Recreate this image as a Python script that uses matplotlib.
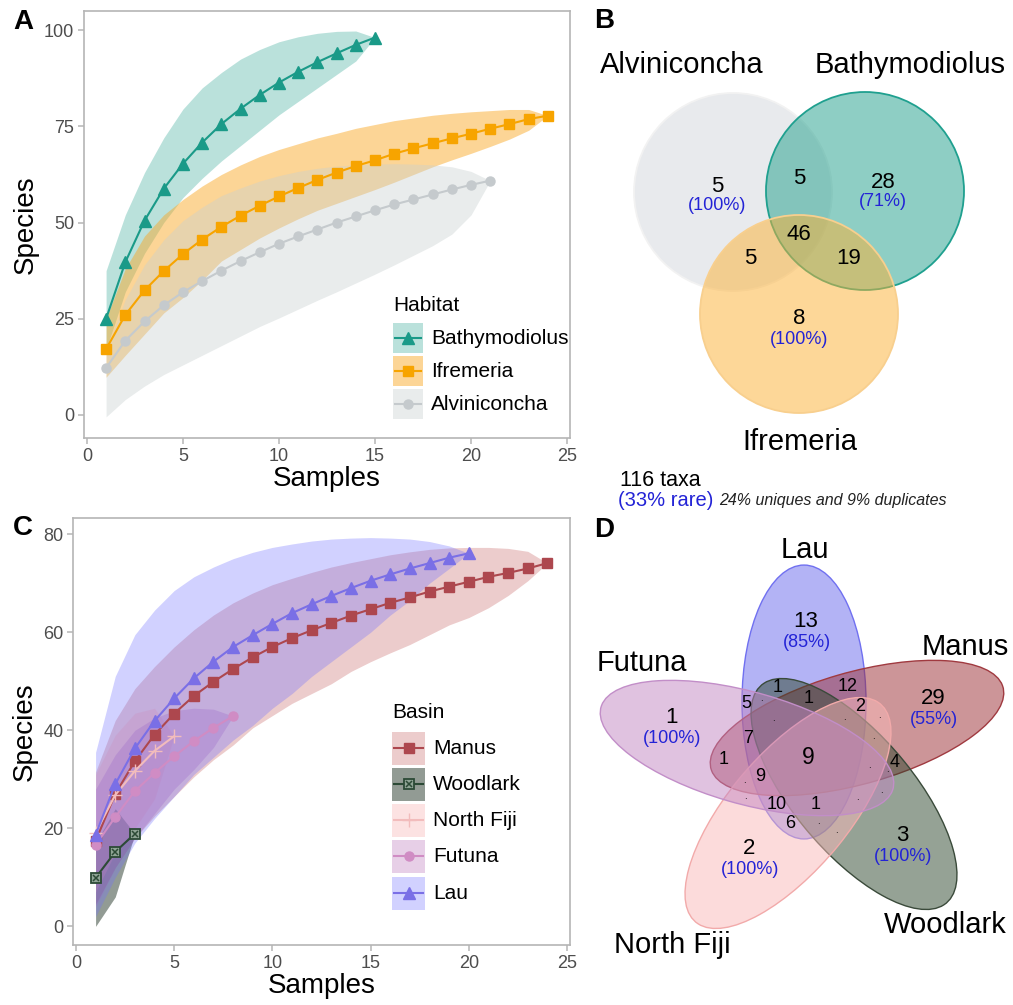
import matplotlib
matplotlib.use("Agg")
import matplotlib.pyplot as plt
from matplotlib.patches import Rectangle, Circle, Ellipse
from matplotlib.lines import Line2D
import numpy as np

plt.rcParams['font.family'] = ['Liberation Sans', 'DejaVu Sans']

W, H = 1013, 1005

# ---------------- data: panel A (habitat rarefaction) ----------------
bathy_x = np.arange(1, 16)
bathy = [25.0, 39.7, 50.5, 58.8, 65.3, 70.8, 75.6, 79.6, 83.2, 86.4, 89.2, 91.7, 94.0, 96.2, 98.1]
bathy_hi = [37.5, 52, 63, 72, 79.5, 85, 89, 92.5, 95, 97, 98.3, 99.2, 99.7, 99.8, 98.1]
bathy_lo = [17, 32, 42, 50, 56.5, 61.5, 66, 70, 74, 78, 81.5, 85, 88.5, 92, 98.1]

ifre_x = np.arange(1, 25)
ifre = [17.1, 26.0, 32.4, 37.4, 41.8, 45.6, 48.9, 51.8, 54.4, 56.8, 59.0, 61.1,
        63.0, 64.7, 66.2, 67.9, 69.3, 70.6, 71.9, 73.1, 74.4, 75.6, 76.9, 77.8]
ifre_hi = [25, 38, 46.5, 52, 56, 59.5, 62.5, 65, 67.2, 69, 70.5, 72,
           73.2, 74.5, 75.5, 76.5, 77.2, 77.9, 78.4, 78.8, 79.1, 79.4, 79.4, 77.8]
ifre_lo = [9.8, 15.5, 21, 26.5, 30.5, 35, 40, 43, 46, 48.6, 51, 53.2,
           55, 56.8, 58.6, 60.5, 62.5, 64.5, 66.3, 68, 69.8, 71.7, 74, 77.8]

alvi_x = np.arange(1, 22)
alvi = [12.2, 19.3, 24.3, 28.5, 31.9, 34.8, 37.5, 40.0, 42.3, 44.5, 46.4, 48.2,
        50.0, 51.6, 53.2, 54.7, 56.0, 57.3, 58.6, 59.8, 60.9]
alvi_hi = [17, 30, 39, 45.5, 50.5, 54, 57, 59, 60.8, 62.2, 63.3, 64.1,
           64.7, 65.0, 65.2, 65.3, 65.2, 65.0, 64.5, 63.3, 60.9]
alvi_lo = [-0.5, 4, 7.5, 10.5, 13, 15.5, 18, 20.5, 23, 25.2, 27.5, 29.8,
           32, 34.3, 36.6, 39, 41.5, 44, 47, 52, 60.9]

# ---------------- data: panel C (basin rarefaction) ----------------
manus_x = np.arange(1, 25)
manus = [17.4, 27.0, 33.7, 39.1, 43.4, 47.0, 49.9, 52.5, 54.9, 57.0, 58.8, 60.4,
         61.9, 63.4, 64.7, 66.0, 67.1, 68.3, 69.3, 70.3, 71.3, 72.1, 73.0, 74.1]
manus_hi = [31.5, 42, 48.5, 53, 57, 60.5, 63.5, 66, 68, 69.7, 71, 72.2,
            73.3, 74.2, 75, 75.8, 76.4, 76.9, 77.2, 77.3, 77.3, 77.1, 76.5, 74.1]
manus_lo = [4.5, 12, 18, 22.5, 26.5, 30.5, 34, 37, 40.5, 43, 45.5, 47.5,
            49.5, 52, 54, 55.8, 57.5, 59.5, 61.5, 63, 65, 67.5, 70.5, 74.1]

wood_x = np.arange(1, 4)
wood = [9.9, 15.2, 18.9]
wood_hi = [17, 24, 18.9]
wood_lo = [0, 6, 18.9]

fiji_x = np.arange(1, 6)
fiji = [19.1, 26.8, 31.7, 35.8, 38.8]
fiji_hi = [31, 39, 43.5, 44.5, 38.8]
fiji_lo = [7, 15, 20, 26, 38.8]

futu_x = np.arange(1, 9)
futu = [16.6, 22.3, 27.6, 31.3, 34.7, 37.8, 40.5, 42.9]
futu_hi = [28, 35, 40, 42.5, 44, 44.5, 44.3, 42.9]
futu_lo = [4, 12, 18, 23, 28, 32, 36.5, 42.9]

lau_x = np.arange(1, 21)
lau = [18.7, 29.0, 36.3, 41.9, 46.5, 50.6, 54.0, 57.0, 59.4, 61.7, 63.9, 65.7,
       67.4, 69.0, 70.5, 71.8, 73.0, 74.1, 75.2, 76.1]
lau_hi = [35.5, 51, 59.5, 64.5, 68.5, 71.3, 73.3, 75, 76.3, 77.3, 78, 78.6,
          79, 79.2, 79.3, 79.2, 79, 78.5, 77.6, 76.1]
lau_lo = [2, 10, 17, 22, 26.5, 31, 34.5, 38, 41, 44.5, 47.5, 51,
          54, 57, 60, 63.5, 66.5, 70, 73, 76.1]

# ---------------- data: Venn B (habitats) ----------------
hab_names = ['Alviniconcha', 'Bathymodiolus', 'Ifremeria']
hab_unique = [5, 28, 8]
hab_unique_rare = [100, 71, 100]
hab_pairs = [5, 5, 19]          # Alvi-Bathy, Alvi-Ifre, Bathy-Ifre
hab_all = 46
n_taxa = 116
rare_pct = 33
uniq_pct = 24
dup_pct = 9

# ---------------- data: Venn D (basins) ----------------
basin_names = ['Lau', 'Manus', 'Woodlark', 'North Fiji', 'Futuna']
basin_unique = [13, 29, 3, 2, 1]
basin_unique_rare = [85, 55, 100, 100, 100]
basin_shared = [1, 12, 5, 1, 2, 7, 1, 4, 9, 10, 1, 6]
basin_core = 9

BLUE = '#2323d6'
SPINE = '#b5b5b5'
WOOD_FACE = '#8fa495'


def fx(px):
    return px / W


def fy(py):
    return 1 - py / H


def style_axes(ax):
    for s in ax.spines.values():
        s.set_color(SPINE)
        s.set_linewidth(1.2)
    ax.tick_params(colors=SPINE, labelcolor='#4d4d4d', labelsize=13,
                   length=4, width=1.1, pad=3)


def legend_rows(fig, title, x0, ytitle, ys, entries, size):
    fig.text(fx(x0), fy(ytitle), title, fontsize=15, va='center', ha='left')
    for y, (name, col, fcol, falpha, mk, ms) in zip(ys, entries):
        fig.add_artist(Rectangle((fx(x0), fy(y + size / 2)), size / W, size / H,
                                 transform=fig.transFigure, color=fcol,
                                 alpha=falpha, lw=0))
        xs = [fx(x0 + 2), fx(x0 + size / 2), fx(x0 + size - 2)]
        boxed = (name == 'Woodlark')
        ln = Line2D(xs, [fy(y)] * 3, transform=fig.transFigure, color=col,
                    lw=1.5, marker=mk, markersize=ms, markevery=[1],
                    mfc=WOOD_FACE if boxed else col, mec=col,
                    mew=1.3 if boxed else 1.0)
        fig.add_artist(ln)
        if boxed:
            fig.add_artist(Line2D([xs[1]], [fy(y)], transform=fig.transFigure,
                                  ls='none', marker='x', markersize=ms * 0.7,
                                  color=col, mew=1.1))
        fig.text(fx(x0 + size + 8), fy(y), name, fontsize=15, va='center', ha='left')


fig = plt.figure(figsize=(W / 100, H / 100), dpi=100)

# ================= Panel A =================
axA = fig.add_axes([fx(84), fy(438), (570 - 84) / W, (438 - 11) / H])
series_a = [
    ('Bathymodiolus', bathy_x, bathy, bathy_lo, bathy_hi, '#1a9a88', '#3aaa9a', 0.35, '^', 8.5),
    ('Ifremeria', ifre_x, ifre, ifre_lo, ifre_hi, '#f7a400', '#f9a825', 0.48, 's', 6.5),
    ('Alviniconcha', alvi_x, alvi, alvi_lo, alvi_hi, '#c5cacd', '#c8d0d0', 0.4, 'o', 6.5),
]
for name, x, y, lo, hi, col, fcol, fa, mk, ms in series_a:
    axA.fill_between(x, lo, hi, color=fcol, alpha=fa, lw=0)
for name, x, y, lo, hi, col, fcol, fa, mk, ms in series_a:
    axA.plot(x, y, color=col, lw=1.5, marker=mk, markersize=ms, mec=col, mfc=col)
axA.set_xlim(-0.15, 25.15)
axA.set_ylim(-6, 105)
axA.set_xticks([0, 5, 10, 15, 20, 25])
axA.set_yticks([0, 25, 50, 75, 100])
axA.set_xlabel('Samples', fontsize=20, labelpad=1)
axA.set_ylabel('Species', fontsize=20, labelpad=4)
style_axes(axA)
legend_rows(fig, 'Habitat', 393, 305, [338, 371, 404],
            [(s[0], s[5], s[6], s[7], s[8], s[9]) for s in series_a], 30)

# ================= Panel C =================
axC = fig.add_axes([fx(73), fy(945), (570 - 73) / W, (945 - 518) / H])
series_c = [
    ('Manus', manus_x, manus, manus_lo, manus_hi, '#ad474e', '#c86464', 0.33, 's', 6.5),
    ('Woodlark', wood_x, wood, wood_lo, wood_hi, '#2c4a36', '#394a3d', 0.55, 's', 7),
    ('North Fiji', fiji_x, fiji, fiji_lo, fiji_hi, '#f2bcbc', '#f8a0a0', 0.3, '+', 10),
    ('Futuna', futu_x, futu, futu_lo, futu_hi, '#d08cc4', '#b060b0', 0.3, 'o', 6.5),
    ('Lau', lau_x, lau, lau_lo, lau_hi, '#7a6fe6', '#7070ff', 0.32, '^', 8.5),
]
for name, x, y, lo, hi, col, fcol, fa, mk, ms in series_c:
    axC.fill_between(x, lo, hi, color=fcol, alpha=fa, lw=0)
for name, x, y, lo, hi, col, fcol, fa, mk, ms in series_c:
    if name == 'Woodlark':
        axC.plot(x, y, color=col, lw=1.5, marker='s', markersize=ms,
                 mec=col, mfc=WOOD_FACE, mew=1.3)
        axC.plot(x, y, ls='none', marker='x', markersize=ms * 0.7, color=col, mew=1.1)
    else:
        axC.plot(x, y, color=col, lw=1.5, marker=mk, markersize=ms, mec=col, mfc=col)
axC.set_xlim(-0.15, 25.15)
axC.set_ylim(-3.8, 83.3)
axC.set_xticks([0, 5, 10, 15, 20, 25])
axC.set_yticks([0, 20, 40, 60, 80])
axC.set_xlabel('Samples', fontsize=20, labelpad=1)
axC.set_ylabel('Species', fontsize=20, labelpad=4)
style_axes(axC)
legend_rows(fig, 'Basin', 392, 712, [748, 784, 820, 856, 893],
            [(s[0], s[5], s[6], s[7], s[8], s[9]) for s in series_c], 33)

# ================= Panel B: 3-set Venn =================
axB = fig.add_axes([fx(580), fy(525), 433 / W, 525 / H])
axB.set_xlim(580, 1013)
axB.set_ylim(525, 0)
axB.axis('off')
circ_xy = [(733, 192), (865, 191), (799, 314)]
circ_fill = ['#d3d7dd', '#1f9f8b', '#fdb133']
circ_edge = ['#f2f2f2', '#1fa08f', '#f8cf8e']
for (cx, cy), fc, ec in zip(circ_xy, circ_fill, circ_edge):
    axB.add_patch(Circle((cx, cy), 99, facecolor=fc, alpha=0.5, lw=0))
    axB.add_patch(Circle((cx, cy), 99, facecolor='none', edgecolor=ec, lw=1.3))

name_xy = [(682, 65), (910, 65), (800, 442)]
for name, (x, y) in zip(hab_names, name_xy):
    axB.text(x, y, name, fontsize=21, ha='center', va='center')
uniq_xy = [(717, 186), (883, 182), (799, 319)]
for n, pct, (x, y) in zip(hab_unique, hab_unique_rare, uniq_xy):
    axB.text(x, y, str(n), fontsize=16, ha='center', va='center')
    axB.text(x, y + 20, f'({pct}%)', fontsize=13, ha='center', va='center', color=BLUE)
pair_xy = [(799, 179), (750, 258), (849, 258)]
for n, (x, y) in zip(hab_pairs, pair_xy):
    axB.text(x, y, str(n), fontsize=16, ha='center', va='center')
axB.text(799, 235, str(hab_all), fontsize=16, ha='center', va='center')

axB.text(620, 480, f'{n_taxa} taxa', fontsize=15.5, ha='left', va='center')
axB.text(618, 500, f'({rare_pct}% rare)', fontsize=14.5, ha='left', va='center', color=BLUE)
axB.text(719, 501, f'{uniq_pct}% uniques and {dup_pct}% duplicates',
         fontsize=11.5, ha='left', va='center', style='italic', color='#222222')

# ================= Panel D: 5-set Venn =================
SQ = 0.895   # vertical squash of the ellipse diagram
axD = fig.add_axes([fx(580), fy(1005), 433 / W, 480 / H])
axD.set_xlim(580, 1013)
axD.set_ylim(1005 / SQ, 525 / SQ)
axD.axis('off')

ell_center = [(804, 702), (857, 728), (854, 794), (788, 813), (747, 748)]
ell_angle = [90, 18, -54, 54, -18]
ell_fill = ['#6969ed', '#9b2d32', '#2d462d', '#fab9b9', '#c387c3']
ell_edge = ['#7070f0', '#a03a40', '#3a4a3a', '#f2aaaa', '#c28ec8']
for (cx, cy), ang, fc, ec in zip(ell_center, ell_angle, ell_fill, ell_edge):
    axD.add_patch(Ellipse((cx, cy / SQ), 306, 124, angle=-ang,
                          facecolor=fc, alpha=0.5, lw=0))
    axD.add_patch(Ellipse((cx, cy / SQ), 306, 124, angle=-ang,
                          facecolor='none', edgecolor=ec, lw=1.0))


def dtext(x, y, s, **kw):
    axD.text(x, y / SQ, s, ha='center', va='center', **kw)


set_xy = [(805, 550), (965, 647), (945, 925), (672, 945), (642, 663)]
for name, (x, y) in zip(basin_names, set_xy):
    dtext(x, y, name, fontsize=21)
uniq_d_xy = [(806, 621), (933, 698), (902, 835), (749, 848), (671, 717)]
for n, pct, (x, y) in zip(basin_unique, basin_unique_rare, uniq_d_xy):
    dtext(x, y, str(n), fontsize=16)
    dtext(x + 1, y + 21, f'({pct}%)', fontsize=13, color=BLUE)
shared_xy = [(778, 687), (848, 686), (746, 703), (809, 698), (860, 706), (748, 738),
             (724, 759), (895, 762), (760, 776), (777, 804), (816, 804), (790, 823)]
for n, (x, y) in zip(basin_shared, shared_xy):
    dtext(x, y, str(n), fontsize=13)
dtext(808, 757, str(basin_core), fontsize=16.5)
zero_xy = [(761, 701), (773, 721), (844, 720), (879, 718), (873, 739), (869, 768),
           (887, 772), (744, 783), (745, 799), (857, 800), (881, 793), (818, 824), (836, 833)]
for x, y in zero_xy:
    dtext(x, y - 3, '.', fontsize=7)

# panel letters
for lab, (x, y) in zip('ABCD', [(23, 22), (604, 21), (23, 528), (604, 530)]):
    fig.text(fx(x), fy(y), lab, fontsize=20, fontweight='bold', ha='center', va='center')

fig.savefig('out.png', dpi=100)
